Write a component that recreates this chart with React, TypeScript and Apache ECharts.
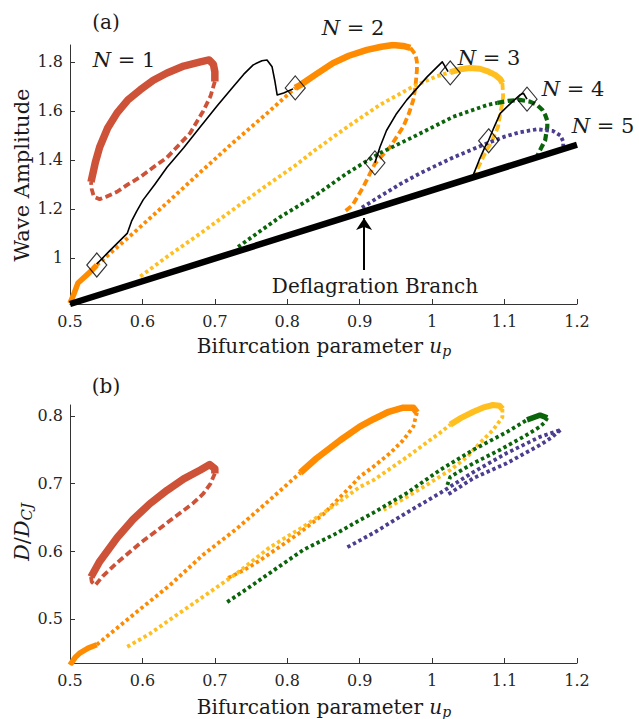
import React, { useEffect, useRef } from 'react';
import * as echarts from 'echarts';

// ---------- ticks ----------
const xTicks = [0.5, 0.6, 0.7, 0.8, 0.9, 1, 1.1, 1.2];
const yTicksA = [1, 1.2, 1.4, 1.6, 1.8];
const yTicksB = [0.5, 0.6, 0.7, 0.8];

// ---------- panel (a): wave amplitude ----------
const deflagA = [[0.5, 0.812], [1.2, 1.462]];
const arrowA = [[0.906, 0.951], [0.906, 1.163]];

const n1SolidA = [[0.529, 1.31], [0.535, 1.39], [0.541, 1.453], [0.552, 1.53], [0.565, 1.592], [0.58, 1.645], [0.597, 1.686], [0.615, 1.725], [0.634, 1.755], [0.657, 1.783], [0.68, 1.80], [0.692, 1.808], [0.698, 1.79], [0.70, 1.76], [0.70, 1.72]];
const n1DashA = [[0.70, 1.72], [0.694, 1.66], [0.684, 1.60], [0.666, 1.51], [0.65, 1.46], [0.634, 1.41], [0.615, 1.37], [0.597, 1.33], [0.58, 1.30], [0.565, 1.27], [0.55, 1.25], [0.541, 1.24], [0.533, 1.25], [0.53, 1.28], [0.529, 1.31]];

const n2StartA = [[0.5, 0.815], [0.505, 0.85], [0.511, 0.898], [0.523, 0.93], [0.532, 0.955], [0.537, 0.971]];
const n2DotA = [[0.537, 0.971], [0.587, 1.10], [0.634, 1.225], [0.68, 1.35], [0.725, 1.47], [0.772, 1.59], [0.811, 1.694]];
const n2SolidA = [[0.811, 1.694], [0.818, 1.706], [0.84, 1.75], [0.863, 1.795], [0.885, 1.825], [0.91, 1.849], [0.93, 1.862], [0.946, 1.869], [0.96, 1.865], [0.97, 1.857]];
const n2DashA = [[0.97, 1.857], [0.977, 1.83], [0.979, 1.80], [0.979, 1.767], [0.977, 1.70], [0.974, 1.645], [0.968, 1.59], [0.96, 1.535], [0.942, 1.453], [0.921, 1.385], [0.905, 1.29], [0.89, 1.215], [0.877, 1.184]];

const n3DotA = [[0.597, 0.924], [0.634, 1.005], [0.68, 1.10], [0.725, 1.197], [0.772, 1.297], [0.81, 1.375], [0.836, 1.435], [0.883, 1.535], [0.928, 1.625], [0.974, 1.70], [1.007, 1.742], [1.025, 1.758]];
const n3SolidA = [[1.025, 1.758], [1.039, 1.77], [1.052, 1.775], [1.066, 1.772], [1.078, 1.76], [1.087, 1.747], [1.094, 1.73], [1.097, 1.714]];
const n3DashA = [[1.097, 1.714], [1.098, 1.66], [1.097, 1.633], [1.094, 1.59], [1.091, 1.535], [1.083, 1.48], [1.073, 1.427], [1.062, 1.36], [1.058, 1.335]];

const n4DotA = [[0.732, 1.045], [0.79, 1.167], [0.836, 1.249], [0.883, 1.347], [0.928, 1.428], [0.974, 1.494], [1.029, 1.576], [1.076, 1.624], [1.09, 1.633]];
const n4DashA = [[1.09, 1.633], [1.105, 1.641], [1.121, 1.645], [1.135, 1.638], [1.145, 1.624], [1.152, 1.605], [1.156, 1.584], [1.159, 1.56], [1.159, 1.535], [1.156, 1.48], [1.149, 1.44], [1.145, 1.415]];

const n5DotA = [[0.903, 1.205], [0.93, 1.255], [0.955, 1.30], [0.983, 1.345], [1.029, 1.41], [1.076, 1.468], [1.1, 1.495], [1.121, 1.513], [1.145, 1.525], [1.167, 1.518], [1.177, 1.50], [1.181, 1.475], [1.181, 1.455]];

const black12A = [[0.537, 0.975], [0.555, 1.03], [0.579, 1.10], [0.585, 1.15], [0.592, 1.19], [0.601, 1.237], [0.617, 1.30], [0.634, 1.37], [0.657, 1.45], [0.68, 1.535], [0.703, 1.62], [0.725, 1.698], [0.74, 1.75], [0.753, 1.788], [0.765, 1.805], [0.772, 1.808], [0.779, 1.78], [0.783, 1.72], [0.786, 1.665], [0.795, 1.673], [0.808, 1.69]];
const black3A = [[0.921, 1.388], [0.928, 1.453], [0.937, 1.52], [0.95, 1.585], [0.965, 1.645], [0.993, 1.739], [1.014, 1.80], [1.022, 1.76]];
const black4A = [[1.057, 1.34], [1.065, 1.40], [1.073, 1.453], [1.078, 1.48], [1.085, 1.53], [1.094, 1.59], [1.108, 1.63], [1.121, 1.665], [1.126, 1.672], [1.131, 1.648]];
const diamondsA = [[0.537, 0.971], [0.811, 1.694], [0.921, 1.388], [1.025, 1.755], [1.078, 1.478], [1.131, 1.648]];

// ---------- panel (b): D/D_CJ ----------
const n1SolidB = [[0.529, 0.562], [0.541, 0.585], [0.565, 0.62], [0.587, 0.647], [0.61, 0.67], [0.634, 0.69], [0.657, 0.707], [0.68, 0.72], [0.693, 0.728], [0.70, 0.722], [0.70, 0.715]];
const n1DashB = [[0.70, 0.715], [0.694, 0.70], [0.684, 0.685], [0.67, 0.671], [0.634, 0.642], [0.597, 0.612], [0.565, 0.583], [0.545, 0.563], [0.535, 0.55], [0.53, 0.555], [0.529, 0.562]];

const n2StartB = [[0.5, 0.432], [0.507, 0.443], [0.514, 0.45], [0.525, 0.457], [0.537, 0.462]];
const n2DotB = [[0.537, 0.462], [0.587, 0.506], [0.638, 0.55], [0.684, 0.595], [0.731, 0.634], [0.776, 0.676], [0.818, 0.716]];
const n2SolidB = [[0.818, 0.716], [0.84, 0.737], [0.873, 0.764], [0.9, 0.784], [0.919, 0.795], [0.94, 0.806], [0.96, 0.812], [0.974, 0.812], [0.979, 0.805]];
const n2DashB = [[0.979, 0.805], [0.974, 0.784], [0.96, 0.764], [0.942, 0.745], [0.919, 0.725], [0.9, 0.71], [0.887, 0.695], [0.873, 0.68], [0.85, 0.655], [0.818, 0.628], [0.79, 0.607], [0.76, 0.585], [0.74, 0.572], [0.717, 0.56]];

const n3DotB = [[0.579, 0.459], [0.61, 0.478], [0.638, 0.499], [0.684, 0.533], [0.731, 0.568], [0.776, 0.606], [0.822, 0.636], [0.869, 0.671], [0.9, 0.695], [0.919, 0.705], [0.965, 0.739], [1.011, 0.775], [1.025, 0.787]];
const n3SolidB = [[1.025, 0.787], [1.04, 0.797], [1.057, 0.806], [1.07, 0.812], [1.084, 0.816], [1.093, 0.815], [1.097, 0.81]];
const n3DashB = [[1.097, 0.81], [1.097, 0.798], [1.084, 0.779], [1.066, 0.76], [1.048, 0.739], [1.025, 0.72], [0.988, 0.695], [0.965, 0.68], [0.933, 0.661]];

const n4DotB = [[0.717, 0.525], [0.745, 0.545], [0.776, 0.568], [0.822, 0.602], [0.869, 0.627], [0.9, 0.646], [0.919, 0.657], [0.965, 0.686], [1.011, 0.72], [1.057, 0.75], [1.103, 0.776], [1.131, 0.794]];
const n4SolidB = [[1.131, 0.794], [1.149, 0.801], [1.159, 0.797]];
const n4DashB = [[1.159, 0.797], [1.155, 0.79], [1.149, 0.784], [1.126, 0.769], [1.094, 0.75], [1.057, 0.73], [1.025, 0.71], [1.021, 0.698]];

const n5DotB = [[0.883, 0.606], [0.919, 0.627], [0.965, 0.657], [1.011, 0.686], [1.057, 0.717], [1.103, 0.745], [1.149, 0.769], [1.177, 0.779]];
const n5ReturnB = [[1.177, 0.779], [1.165, 0.768], [1.149, 0.757], [1.103, 0.73], [1.057, 0.708], [1.025, 0.686], [1.02, 0.683]];

// ---------- styles ----------
const RED = '#cd5238';
const ORANGE = '#ff8c00';
const GOLD = '#ffbf1f';
const GREEN = '#0a640a';
const PURPLE = '#4b3d8f';
const AXIS = '#333333';
const FONT = '"DejaVu Serif", serif';
const DOT = [3.4, 2.9];
const DASH = [7, 3.5];
const DW = 3.8;

const fmt = (v: number) => String(Math.round(v * 10) / 10);

function ln(data: number[][], color: string, width: number, type: any, panel: number, z = 2) {
  return {
    type: 'line',
    xAxisIndex: panel,
    yAxisIndex: panel,
    data,
    showSymbol: false,
    symbol: 'none',
    silent: true,
    z,
    lineStyle: { color, width, type, cap: 'butt', join: 'round' },
  };
}

function xAxisFor(gridIndex: number) {
  return {
    type: 'value',
    gridIndex,
    min: 0.5,
    max: 1.2,
    axisLine: { show: true, onZero: false, lineStyle: { color: AXIS, width: 1 } },
    axisTick: { show: true, inside: true, length: 5, customValues: xTicks, lineStyle: { color: AXIS } },
    axisLabel: { customValues: xTicks, formatter: fmt, margin: 9, color: '#262626', fontFamily: FONT, fontSize: 16 },
    splitLine: { show: false },
  };
}

function yAxisFor(gridIndex: number, min: number, max: number, ticks: number[]) {
  return {
    type: 'value',
    gridIndex,
    min,
    max,
    axisLine: { show: true, onZero: false, lineStyle: { color: AXIS, width: 1 } },
    axisTick: { show: true, inside: true, length: 5, customValues: ticks, lineStyle: { color: AXIS } },
    axisLabel: { customValues: ticks, formatter: fmt, margin: 7, color: '#262626', fontFamily: FONT, fontSize: 16 },
    splitLine: { show: false },
  };
}

function txt(x: number, y: number, text: string, size: number, extra: any = {}) {
  return {
    type: 'text',
    x,
    y,
    silent: true,
    z: 100,
    ...extra,
    style: {
      text,
      fontFamily: FONT,
      fontSize: size,
      fill: '#1a1a1a',
      align: 'center',
      verticalAlign: 'middle',
      textAlign: 'center',
      textVerticalAlign: 'middle',
      rich: {
        i: { fontFamily: FONT, fontSize: size, fontStyle: 'italic', fill: '#1a1a1a', lineHeight: size + 4 },
        r: { fontFamily: FONT, fontSize: size, fill: '#1a1a1a', lineHeight: size + 4 },
        s: { fontFamily: FONT, fontSize: Math.round(size * 0.7), fontStyle: 'italic', fill: '#1a1a1a', verticalAlign: 'bottom', lineHeight: Math.round(size * 0.7) },
      },
      ...(extra.style || {}),
    },
  };
}

export default function App() {
  const ref = useRef<HTMLDivElement>(null);
  useEffect(() => {
    if (!ref.current) return;
    const chart = echarts.init(ref.current, null, { renderer: 'svg' });
    const series: any[] = [
      // panel a
      ln(n1SolidA, RED, 7.5, 'solid', 0),
      ln(n1DashA, RED, DW, DASH, 0),
      ln(n2StartA, ORANGE, 5.5, 'solid', 0),
      ln(n2DotA, ORANGE, DW, DOT, 0),
      ln(n2SolidA, ORANGE, 6.5, 'solid', 0),
      ln(n2DashA, ORANGE, DW, DASH, 0),
      ln(n3DotA, GOLD, DW, DOT, 0),
      ln(n3SolidA, GOLD, 6, 'solid', 0),
      ln(n3DashA, GOLD, DW, DASH, 0),
      ln(n4DotA, GREEN, DW, DOT, 0),
      ln(n4DashA, GREEN, 4.2, DASH, 0),
      ln(n5DotA, PURPLE, DW, DOT, 0),
      ln(black12A, '#000', 1.6, 'solid', 0, 5),
      ln(black3A, '#000', 1.6, 'solid', 0, 5),
      ln(black4A, '#000', 1.6, 'solid', 0, 5),
      ln(deflagA, '#000', 6.5, 'solid', 0, 6),
      {
        type: 'scatter', xAxisIndex: 0, yAxisIndex: 0, data: diamondsA, symbol: 'diamond', symbolSize: [20, 24], silent: true, z: 8,
        itemStyle: { color: 'rgba(0,0,0,0)', borderColor: '#000', borderWidth: 1.2 },
      },
      {
        type: 'lines', coordinateSystem: 'cartesian2d', xAxisIndex: 0, yAxisIndex: 0, silent: true, z: 7,
        symbol: ['none', 'arrow'], symbolSize: 12,
        lineStyle: { color: '#000', width: 2, opacity: 1, curveness: 0 },
        data: [{ coords: arrowA }],
      },
      // panel b
      ln(n1SolidB, RED, 7.5, 'solid', 1),
      ln(n1DashB, RED, DW, DASH, 1),
      ln(n2StartB, ORANGE, 5.5, 'solid', 1),
      ln(n2DotB, ORANGE, DW, DOT, 1),
      ln(n2SolidB, ORANGE, 6.5, 'solid', 1),
      ln(n2DashB, ORANGE, DW, DOT, 1),
      ln(n3DotB, GOLD, DW, DOT, 1),
      ln(n3SolidB, GOLD, 6, 'solid', 1),
      ln(n3DashB, GOLD, DW, DOT, 1),
      ln(n4DotB, GREEN, DW, DOT, 1),
      ln(n4SolidB, GREEN, 5.5, 'solid', 1),
      ln(n4DashB, GREEN, DW, DOT, 1),
      ln(n5DotB, PURPLE, DW, DOT, 1),
      ln(n5ReturnB, PURPLE, DW, DOT, 1),
    ];

    chart.setOption({
      animation: false,
      backgroundColor: '#ffffff',
      grid: [
        { left: 70, top: 45, width: 507, height: 259 },
        { left: 70, top: 405, width: 507, height: 258 },
      ],
      xAxis: [xAxisFor(0), xAxisFor(1)],
      yAxis: [yAxisFor(0, 0.812, 1.869, yTicksA), yAxisFor(1, 0.435, 0.816, yTicksB)],
      series,
      graphic: [
        txt(106, 22, '(a)', 20),
        txt(106, 386, '(b)', 20),
        txt(124, 60, '{i|N}{r| = 1}', 21),
        txt(353, 28, '{i|N}{r| = 2}', 21),
        txt(489, 58, '{i|N}{r| = 3}', 21),
        txt(573, 89, '{i|N}{r| = 4}', 21),
        txt(603, 126, '{i|N}{r| = 5}', 21),
        txt(375, 286, 'Deflagration Branch', 20),
        txt(324, 346, '{r|Bifurcation parameter }{i|u}{s|p}', 20),
        txt(324, 707, '{r|Bifurcation parameter }{i|u}{s|p}', 20),
        txt(22, 175, 'Wave Amplitude', 21, { rotation: Math.PI / 2 }),
        txt(22, 532, '{i|D}{r|/}{i|D}{s|CJ}', 21, { rotation: Math.PI / 2 }),
      ],
    });
    return () => chart.dispose();
  }, []);
  return <div ref={ref} style={{ position: 'fixed', left: 0, top: 0, width: 639, height: 719 }} />;
}
